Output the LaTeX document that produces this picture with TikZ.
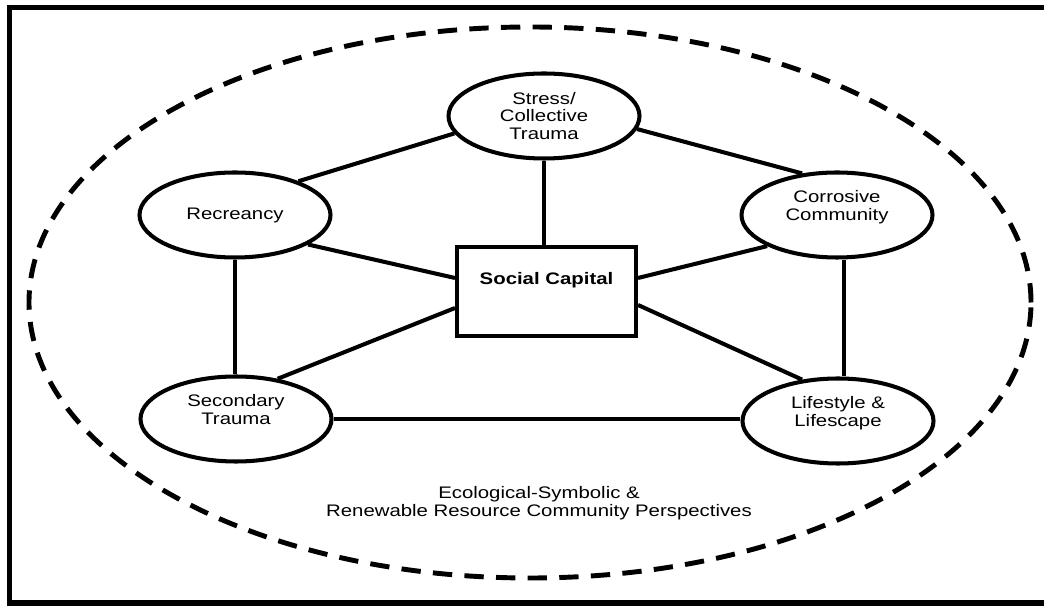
\documentclass[tikz,border=0pt]{standalone}
\usepackage{fontspec}
\setmainfont[FakeStretch=1.22]{Liberation Sans}
\usetikzlibrary{shapes.geometric}

\newcommand{\diagfont}{\fontsize{9.5pt}{10.2pt}\selectfont}

\begin{document}
\begin{tikzpicture}[
    every node/.style={font=\diagfont, align=center},
    topic/.style={draw, ellipse, line width=2.3pt, minimum width=3.82cm, minimum height=1.70cm, inner sep=1pt},
    lifted/.style={text depth=0.38cm},
    hub/.style={draw, rectangle, line width=2.3pt, minimum width=3.58cm, minimum height=1.78cm,
        font=\diagfont\bfseries, text height=7pt, text depth=0.51cm},
    link/.style={line width=2.3pt}
]
    \useasboundingbox (0,0) rectangle (20.88,12.1);

    % frame (right side runs off the page)
    \draw[line width=2.85pt] (21.2,11.95) -- (0.184,11.95) -- (0.184,0.04) -- (21.2,0.04);

    % dashed boundary round the whole model
    \draw[line width=2.8pt, dash pattern=on 11pt off 7pt] (10.6,6.05) ellipse (10.02cm and 5.51cm);

    % the five factors and the hub
    \node (stress) at (10.88,9.78) [topic] {Stress/\\Collective\\Trauma};
    \node (rec) at (4.70,7.80) [topic] {Recreancy};
    \node (corr) at (16.74,7.80) [topic, lifted] {Corrosive\\Community};
    \node (sec) at (4.72,3.72) [topic, lifted] {Secondary\\Trauma};
    \node (life) at (16.76,3.68) [topic, lifted] {Lifestyle \&\\Lifescape};
    \node (soc) at (10.93,6.27) [hub] {Social Capital};

    % outer ring
    \draw[link] (stress.191.7) -- (rec.28);
    \draw[link] (stress.-8) -- (corr.130);
    \draw[link] (rec.south) -- (rec.south |- sec.north);
    \draw[link] ([xshift=0.14cm]corr.south) -- ([xshift=0.14cm]corr.south |- life.north);
    \draw[link] (sec.east) -- (sec.east -| life.west);

    % spokes to the hub
    \draw[link] (stress.south) -- (stress.south |- soc.north);
    \draw[link] (rec.-22) -- ([yshift=0.27cm]soc.west);
    \draw[link] (corr.204.6) -- ([yshift=0.27cm]soc.east);
    \draw[link] (sec.44) -- ([yshift=-0.33cm]soc.west);
    \draw[link] ([yshift=-0.27cm]soc.east) -- (life.131.5);

    % caption inside the ring
    \node (persp) at (10.78,2.04) {Ecological-Symbolic \&\\Renewable Resource Community Perspectives};
\end{tikzpicture}
\end{document}
